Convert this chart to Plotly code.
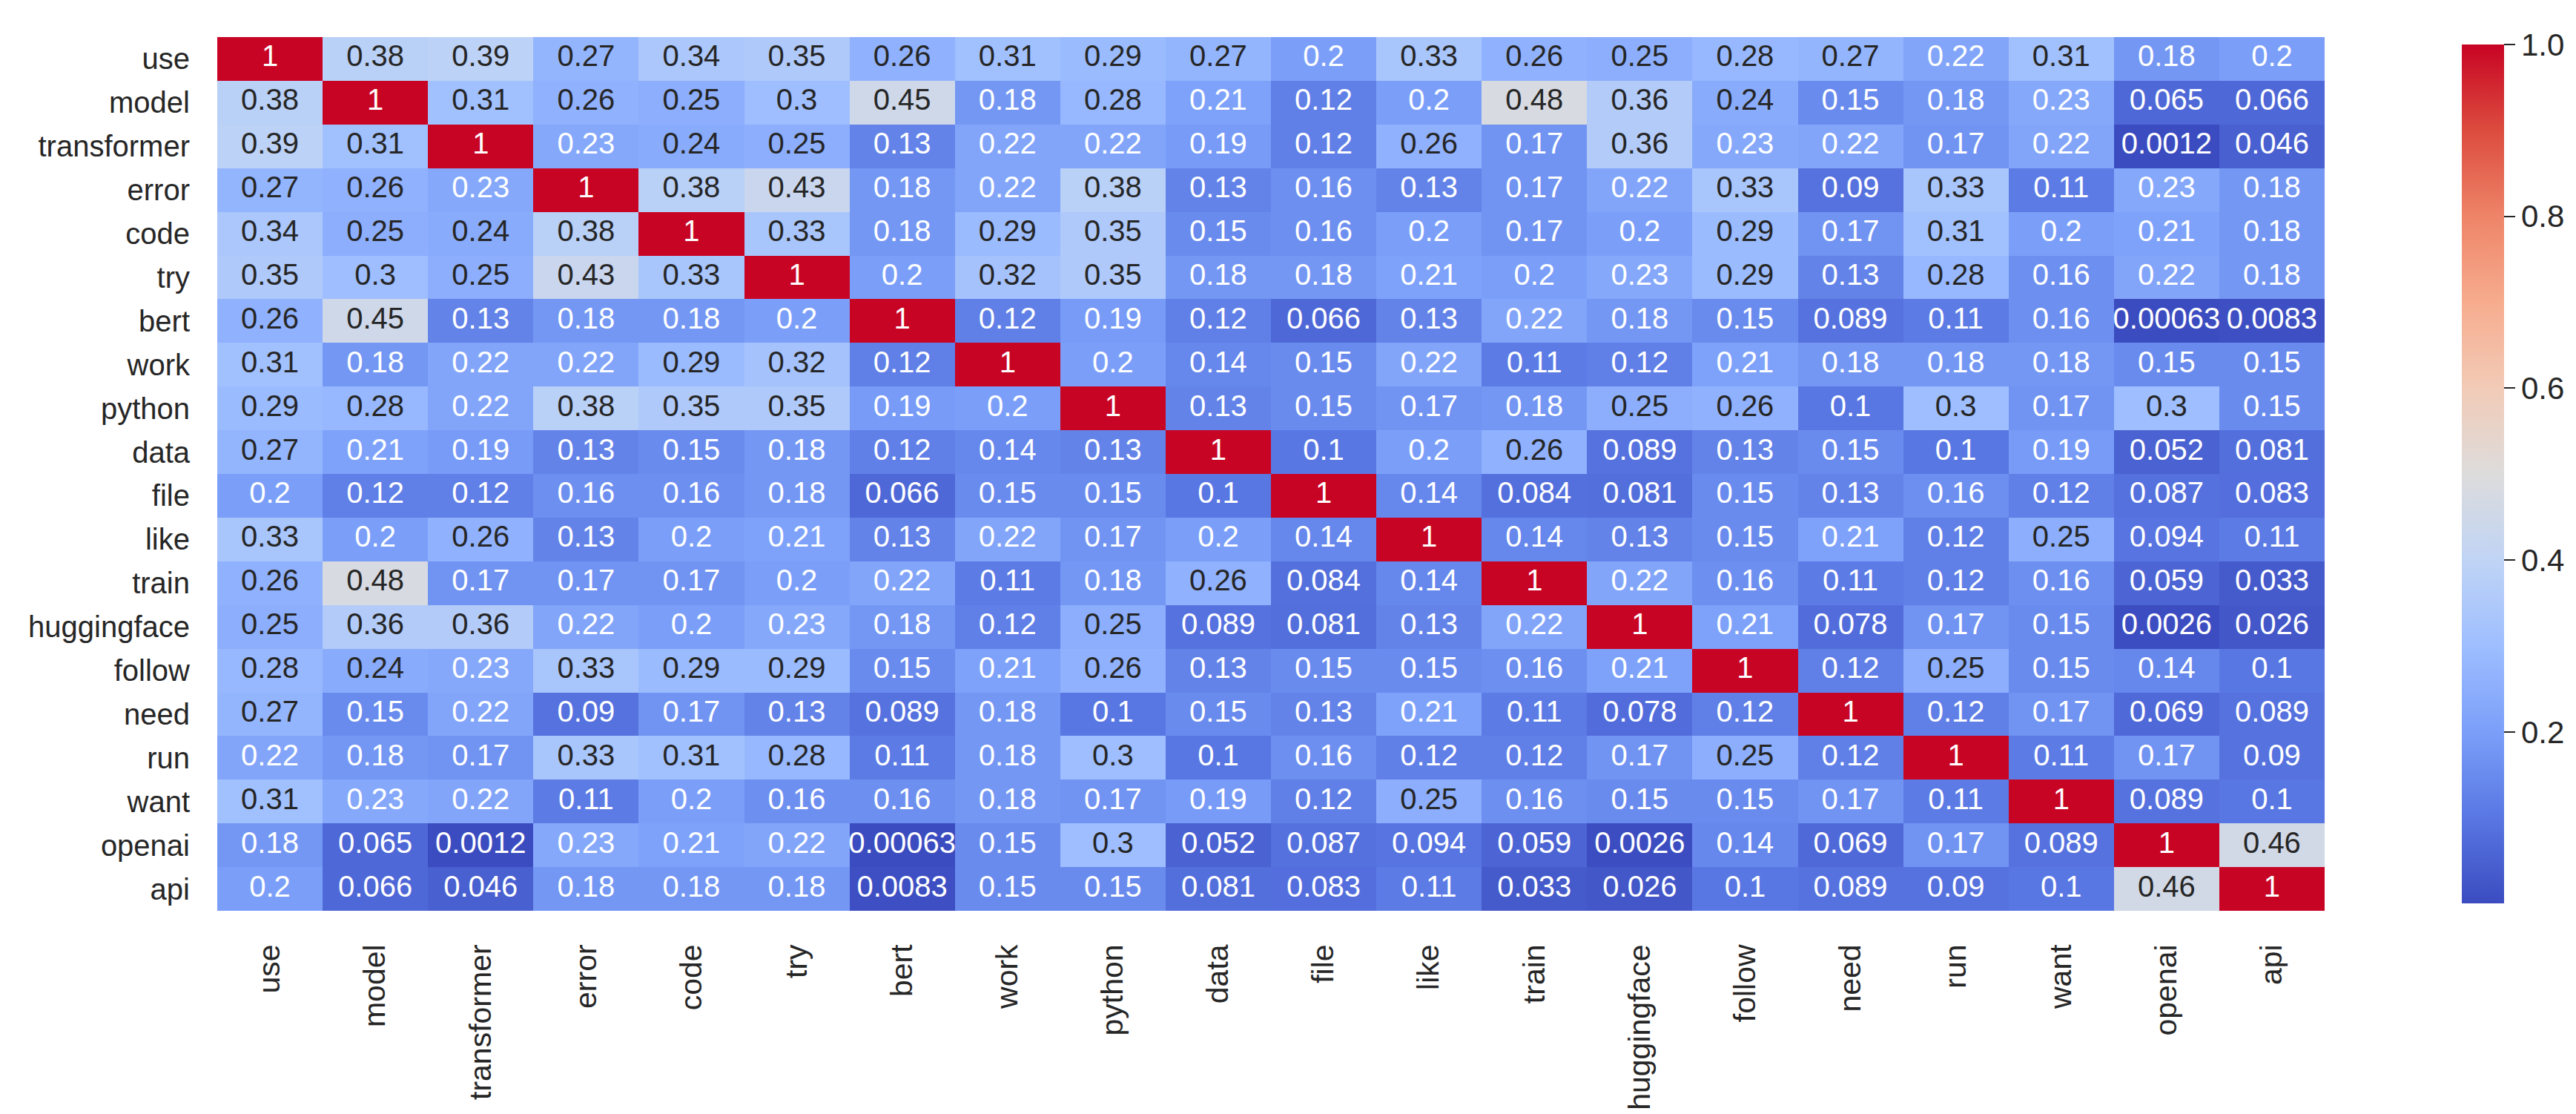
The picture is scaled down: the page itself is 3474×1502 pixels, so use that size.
import plotly.graph_objects as go

# word co-occurrence correlation matrix
words = ['use', 'model', 'transformer', 'error', 'code', 'try', 'bert', 'work', 'python', 'data',
         'file', 'like', 'train', 'huggingface', 'follow', 'need', 'run', 'want', 'openai', 'api']

use = [1, 0.38, 0.39, 0.27, 0.34, 0.35, 0.26, 0.31, 0.29, 0.27, 0.2, 0.33, 0.26, 0.25, 0.28, 0.27, 0.22, 0.31, 0.18, 0.2]
model = [0.38, 1, 0.31, 0.26, 0.25, 0.3, 0.45, 0.18, 0.28, 0.21, 0.12, 0.2, 0.48, 0.36, 0.24, 0.15, 0.18, 0.23, 0.065, 0.066]
transformer = [0.39, 0.31, 1, 0.23, 0.24, 0.25, 0.13, 0.22, 0.22, 0.19, 0.12, 0.26, 0.17, 0.36, 0.23, 0.22, 0.17, 0.22, 0.0012, 0.046]
error = [0.27, 0.26, 0.23, 1, 0.38, 0.43, 0.18, 0.22, 0.38, 0.13, 0.16, 0.13, 0.17, 0.22, 0.33, 0.09, 0.33, 0.11, 0.23, 0.18]
code = [0.34, 0.25, 0.24, 0.38, 1, 0.33, 0.18, 0.29, 0.35, 0.15, 0.16, 0.2, 0.17, 0.2, 0.29, 0.17, 0.31, 0.2, 0.21, 0.18]
try_ = [0.35, 0.3, 0.25, 0.43, 0.33, 1, 0.2, 0.32, 0.35, 0.18, 0.18, 0.21, 0.2, 0.23, 0.29, 0.13, 0.28, 0.16, 0.22, 0.18]
bert = [0.26, 0.45, 0.13, 0.18, 0.18, 0.2, 1, 0.12, 0.19, 0.12, 0.066, 0.13, 0.22, 0.18, 0.15, 0.089, 0.11, 0.16, 0.00063, 0.0083]
work = [0.31, 0.18, 0.22, 0.22, 0.29, 0.32, 0.12, 1, 0.2, 0.14, 0.15, 0.22, 0.11, 0.12, 0.21, 0.18, 0.18, 0.18, 0.15, 0.15]
python = [0.29, 0.28, 0.22, 0.38, 0.35, 0.35, 0.19, 0.2, 1, 0.13, 0.15, 0.17, 0.18, 0.25, 0.26, 0.1, 0.3, 0.17, 0.3, 0.15]
data = [0.27, 0.21, 0.19, 0.13, 0.15, 0.18, 0.12, 0.14, 0.13, 1, 0.1, 0.2, 0.26, 0.089, 0.13, 0.15, 0.1, 0.19, 0.052, 0.081]
file = [0.2, 0.12, 0.12, 0.16, 0.16, 0.18, 0.066, 0.15, 0.15, 0.1, 1, 0.14, 0.084, 0.081, 0.15, 0.13, 0.16, 0.12, 0.087, 0.083]
like = [0.33, 0.2, 0.26, 0.13, 0.2, 0.21, 0.13, 0.22, 0.17, 0.2, 0.14, 1, 0.14, 0.13, 0.15, 0.21, 0.12, 0.25, 0.094, 0.11]
train = [0.26, 0.48, 0.17, 0.17, 0.17, 0.2, 0.22, 0.11, 0.18, 0.26, 0.084, 0.14, 1, 0.22, 0.16, 0.11, 0.12, 0.16, 0.059, 0.033]
huggingface = [0.25, 0.36, 0.36, 0.22, 0.2, 0.23, 0.18, 0.12, 0.25, 0.089, 0.081, 0.13, 0.22, 1, 0.21, 0.078, 0.17, 0.15, 0.0026, 0.026]
follow = [0.28, 0.24, 0.23, 0.33, 0.29, 0.29, 0.15, 0.21, 0.26, 0.13, 0.15, 0.15, 0.16, 0.21, 1, 0.12, 0.25, 0.15, 0.14, 0.1]
need = [0.27, 0.15, 0.22, 0.09, 0.17, 0.13, 0.089, 0.18, 0.1, 0.15, 0.13, 0.21, 0.11, 0.078, 0.12, 1, 0.12, 0.17, 0.069, 0.089]
run = [0.22, 0.18, 0.17, 0.33, 0.31, 0.28, 0.11, 0.18, 0.3, 0.1, 0.16, 0.12, 0.12, 0.17, 0.25, 0.12, 1, 0.11, 0.17, 0.09]
want = [0.31, 0.23, 0.22, 0.11, 0.2, 0.16, 0.16, 0.18, 0.17, 0.19, 0.12, 0.25, 0.16, 0.15, 0.15, 0.17, 0.11, 1, 0.089, 0.1]
openai = [0.18, 0.065, 0.0012, 0.23, 0.21, 0.22, 0.00063, 0.15, 0.3, 0.052, 0.087, 0.094, 0.059, 0.0026, 0.14, 0.069, 0.17, 0.089, 1, 0.46]
api = [0.2, 0.066, 0.046, 0.18, 0.18, 0.18, 0.0083, 0.15, 0.15, 0.081, 0.083, 0.11, 0.033, 0.026, 0.1, 0.089, 0.09, 0.1, 0.46, 1]

corr = [use, model, transformer, error, code, try_, bert, work, python, data,
        file, like, train, huggingface, follow, need, run, want, openai, api]

cbar_ticks = [0.2, 0.4, 0.6, 0.8, 1.0]

# coolwarm-like colormap
cw = ['#3b4cc0', '#5977e3', '#7b9ff9', '#9ebeff', '#c0d4f5', '#dddcdc',
      '#f2cbb7', '#f7ac8e', '#ee8468', '#dc4c3e', '#c80424']
cscale = [[i / 10, c] for i, c in enumerate(cw)]

zmin = min(min(r) for r in corr)
zmax = 1.0

def hex2rgb(h):
    return [int(h[i:i + 2], 16) for i in (1, 3, 5)]

def cmap(t):
    t = min(max(t, 0), 1) * 10
    i = min(int(t), 9)
    f = t - i
    a, b = hex2rgb(cw[i]), hex2rgb(cw[i + 1])
    return [a[k] + (b[k] - a[k]) * f for k in range(3)]

def lum(rgb):
    out = []
    for c in rgb:
        c = c / 255
        out.append(c / 12.92 if c <= 0.03928 else ((c + 0.055) / 1.055) ** 2.4)
    return 0.2126 * out[0] + 0.7152 * out[1] + 0.0722 * out[2]

# annotation texts, dark on light cells like seaborn
xs, ys, txt, tcol = [], [], [], []
for i, row in enumerate(corr):
    for j, v in enumerate(row):
        xs.append(words[j])
        ys.append(words[i])
        txt.append(format(v, '.2g'))
        l = lum(cmap((v - zmin) / (zmax - zmin)))
        tcol.append('#262626' if l > 0.408 else 'white')

fig = go.Figure()
fig.add_trace(go.Heatmap(
    z=corr, x=words, y=words,
    colorscale=cscale, zmin=zmin, zmax=zmax,
    xgap=0, ygap=0,
    colorbar=dict(
        thickness=57, len=1, lenmode='fraction', y=0.5, yanchor='middle',
        x=1.0616, xanchor='left', outlinewidth=0,
        tickvals=cbar_ticks, tickformat='.1f', ticks='outside', ticklen=15,
        tickwidth=2, tickcolor='#262626',
        tickfont=dict(family='Liberation Sans', size=42, color='#262626'),
    ),
    hoverinfo='skip',
))
fig.add_trace(go.Scatter(
    x=xs, y=ys, mode='text', text=txt,
    textfont=dict(family='Liberation Sans', size=40, color=tcol),
    hoverinfo='skip', showlegend=False, cliponaxis=False,
))

n = len(words)
fig.update_xaxes(range=[-0.5, n - 0.5], tickangle=-90, showgrid=False, zeroline=False, showline=False,
                 ticks='outside', ticklen=28, tickcolor='rgba(0,0,0,0)',
                 tickfont=dict(family='Liberation Sans', size=41, color='#262626'))
fig.update_yaxes(range=[n - 0.5, -0.5], showgrid=False, zeroline=False, showline=False,
                 ticks='outside', ticklen=28, tickcolor='rgba(0,0,0,0)',
                 tickfont=dict(family='Liberation Sans', size=40, color='#262626'))

fig.update_layout(
    width=3474, height=1502,
    margin=dict(l=285, r=347, t=42, b=282, autoexpand=False),
    plot_bgcolor='white', paper_bgcolor='white',
    showlegend=False,
)

fig.write_html("out.html")
